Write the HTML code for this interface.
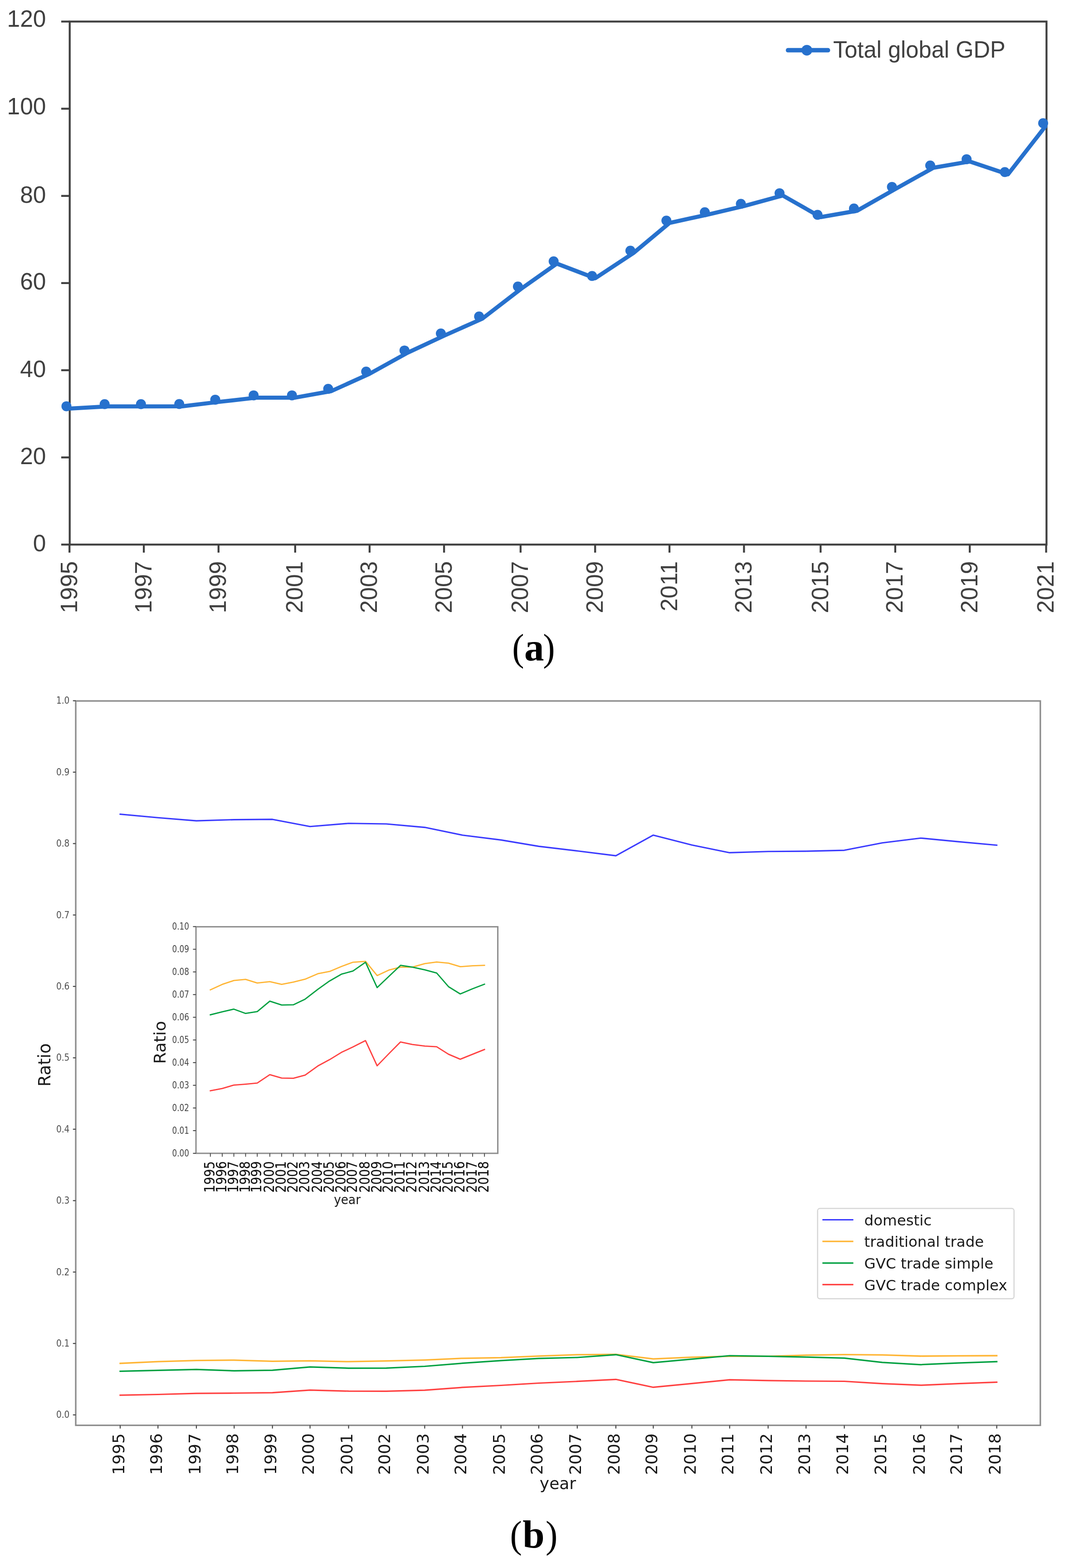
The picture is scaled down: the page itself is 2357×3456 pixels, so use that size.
<!DOCTYPE html>
<html><head><meta charset="utf-8"><title>Figure</title>
<style>
html,body{margin:0;padding:0;background:#fff;}
body{width:2357px;height:3456px;overflow:hidden;position:relative;}
svg{position:absolute;left:0;top:0;display:block;}
.la{font-family:"Liberation Sans",Arial,sans-serif;fill:#404040;}
.lb{font-family:"DejaVu Sans","Liberation Sans",sans-serif;fill:#1a1a1a;}
.tick{fill:#505050;}
.tick2{fill:#474747;}
.ibold{fill:#111;stroke:#111;stroke-width:0.15px;}
.cap{font-family:"Liberation Serif","Times New Roman",serif;fill:#000;}
</style></head>
<body>
<svg width="2357" height="3456" viewBox="0 0 2357 3456">
<rect width="2357" height="3456" fill="#fff"/>
<g id="chartA">
<rect x="153.7" y="47.5" width="2153.7" height="1152.8" fill="none" stroke="#404040" stroke-width="4.3"/>
<line x1="135" y1="1200.3" x2="153.7" y2="1200.3" stroke="#404040" stroke-width="4.3"/>
<text x="101.5" y="1215.2" font-size="51.5" text-anchor="end" class="la">0</text>
<line x1="135" y1="1008.2" x2="153.7" y2="1008.2" stroke="#404040" stroke-width="4.3"/>
<text x="101.5" y="1022.9" font-size="51.5" text-anchor="end" class="la">20</text>
<line x1="135" y1="816.0" x2="153.7" y2="816.0" stroke="#404040" stroke-width="4.3"/>
<text x="101.5" y="830.7" font-size="51.5" text-anchor="end" class="la">40</text>
<line x1="135" y1="623.9" x2="153.7" y2="623.9" stroke="#404040" stroke-width="4.3"/>
<text x="101.5" y="638.3" font-size="51.5" text-anchor="end" class="la">60</text>
<line x1="135" y1="431.8" x2="153.7" y2="431.8" stroke="#404040" stroke-width="4.3"/>
<text x="101.5" y="447.0" font-size="51.5" text-anchor="end" class="la">80</text>
<line x1="135" y1="239.6" x2="153.7" y2="239.6" stroke="#404040" stroke-width="4.3"/>
<text x="101.5" y="251.9" font-size="51.5" text-anchor="end" class="la">100</text>
<line x1="135" y1="47.5" x2="153.7" y2="47.5" stroke="#404040" stroke-width="4.3"/>
<text x="101.5" y="59.1" font-size="51.5" text-anchor="end" class="la">120</text>
<line x1="153.2" y1="1200.3" x2="153.2" y2="1218" stroke="#404040" stroke-width="4.3"/>
<text transform="translate(169.7,1236.8) rotate(-90)" font-size="51.5" text-anchor="end" class="la">1995</text>
<line x1="317.1" y1="1200.3" x2="317.1" y2="1218" stroke="#404040" stroke-width="4.3"/>
<text transform="translate(333.6,1236.8) rotate(-90)" font-size="51.5" text-anchor="end" class="la">1997</text>
<line x1="481.8" y1="1200.3" x2="481.8" y2="1218" stroke="#404040" stroke-width="4.3"/>
<text transform="translate(498.3,1236.8) rotate(-90)" font-size="51.5" text-anchor="end" class="la">1999</text>
<line x1="650.8" y1="1200.3" x2="650.8" y2="1218" stroke="#404040" stroke-width="4.3"/>
<text transform="translate(667.3,1236.8) rotate(-90)" font-size="51.5" text-anchor="end" class="la">2001</text>
<line x1="814.9" y1="1200.3" x2="814.9" y2="1218" stroke="#404040" stroke-width="4.3"/>
<text transform="translate(831.4,1236.8) rotate(-90)" font-size="51.5" text-anchor="end" class="la">2003</text>
<line x1="979.1" y1="1200.3" x2="979.1" y2="1218" stroke="#404040" stroke-width="4.3"/>
<text transform="translate(995.6,1236.8) rotate(-90)" font-size="51.5" text-anchor="end" class="la">2005</text>
<line x1="1147.8" y1="1200.3" x2="1147.8" y2="1218" stroke="#404040" stroke-width="4.3"/>
<text transform="translate(1164.3,1236.8) rotate(-90)" font-size="51.5" text-anchor="end" class="la">2007</text>
<line x1="1312.2" y1="1200.3" x2="1312.2" y2="1218" stroke="#404040" stroke-width="4.3"/>
<text transform="translate(1328.7,1236.8) rotate(-90)" font-size="51.5" text-anchor="end" class="la">2009</text>
<line x1="1476.1" y1="1200.3" x2="1476.1" y2="1218" stroke="#404040" stroke-width="4.3"/>
<text transform="translate(1492.6,1236.8) rotate(-90)" font-size="51.5" text-anchor="end" class="la">2011</text>
<line x1="1640.4" y1="1200.3" x2="1640.4" y2="1218" stroke="#404040" stroke-width="4.3"/>
<text transform="translate(1656.9,1236.8) rotate(-90)" font-size="51.5" text-anchor="end" class="la">2013</text>
<line x1="1809.3" y1="1200.3" x2="1809.3" y2="1218" stroke="#404040" stroke-width="4.3"/>
<text transform="translate(1825.8,1236.8) rotate(-90)" font-size="51.5" text-anchor="end" class="la">2015</text>
<line x1="1973.9" y1="1200.3" x2="1973.9" y2="1218" stroke="#404040" stroke-width="4.3"/>
<text transform="translate(1990.4,1236.8) rotate(-90)" font-size="51.5" text-anchor="end" class="la">2017</text>
<line x1="2138.2" y1="1200.3" x2="2138.2" y2="1218" stroke="#404040" stroke-width="4.3"/>
<text transform="translate(2154.7,1236.8) rotate(-90)" font-size="51.5" text-anchor="end" class="la">2019</text>
<line x1="2306.6" y1="1200.3" x2="2306.6" y2="1218" stroke="#404040" stroke-width="4.3"/>
<text transform="translate(2323.1,1236.8) rotate(-90)" font-size="51.5" text-anchor="end" class="la">2021</text>
<polyline points="153.7,900.4 237.7,895.7 317.8,895.7 402.2,895.5 481.6,885.9 566.2,876.4 650.7,876.4 730.6,862.0 814.3,824.1 898.8,777.4 979.0,740.0 1063.3,702.5 1148.9,636.6 1227.7,581.0 1312.4,613.2 1396.9,557.5 1476.3,491.3 1561.0,472.8 1640.5,454.2 1725.8,430.9 1809.6,478.5 1889.8,464.5 1973.6,416.9 2058.0,369.8 2138.2,355.9 2222.5,384.3 2306.5,276.5" fill="none" stroke="#2771cd" stroke-width="9" stroke-linejoin="round"/>
<circle cx="146.5" cy="895.4" r="11" fill="#2771cd"/>
<circle cx="230.7" cy="890.7" r="11" fill="#2771cd"/>
<circle cx="310.8" cy="890.7" r="11" fill="#2771cd"/>
<circle cx="395.2" cy="890.5" r="11" fill="#2771cd"/>
<circle cx="474.6" cy="880.9" r="11" fill="#2771cd"/>
<circle cx="559.2" cy="871.4" r="11" fill="#2771cd"/>
<circle cx="643.7" cy="871.4" r="11" fill="#2771cd"/>
<circle cx="723.6" cy="857" r="11" fill="#2771cd"/>
<circle cx="807.3" cy="819.1" r="11" fill="#2771cd"/>
<circle cx="891.8" cy="772.4" r="11" fill="#2771cd"/>
<circle cx="972" cy="735" r="11" fill="#2771cd"/>
<circle cx="1056.3" cy="697.5" r="11" fill="#2771cd"/>
<circle cx="1141.9" cy="631.6" r="11" fill="#2771cd"/>
<circle cx="1220.7" cy="576" r="11" fill="#2771cd"/>
<circle cx="1305.4" cy="608.2" r="11" fill="#2771cd"/>
<circle cx="1389.9" cy="552.5" r="11" fill="#2771cd"/>
<circle cx="1469.3" cy="486.3" r="11" fill="#2771cd"/>
<circle cx="1554" cy="467.8" r="11" fill="#2771cd"/>
<circle cx="1633.5" cy="449.2" r="11" fill="#2771cd"/>
<circle cx="1718.8" cy="425.9" r="11" fill="#2771cd"/>
<circle cx="1802.6" cy="473.5" r="11" fill="#2771cd"/>
<circle cx="1882.8" cy="459.5" r="11" fill="#2771cd"/>
<circle cx="1966.6" cy="411.9" r="11" fill="#2771cd"/>
<circle cx="2051" cy="364.8" r="11" fill="#2771cd"/>
<circle cx="2131.2" cy="350.9" r="11" fill="#2771cd"/>
<circle cx="2215.5" cy="379.3" r="11" fill="#2771cd"/>
<circle cx="2300" cy="271.5" r="11" fill="#2771cd"/>
<line x1="1737.5" y1="110.7" x2="1825.5" y2="110.7" stroke="#2771cd" stroke-width="9.8" stroke-linecap="round"/>
<circle cx="1779" cy="110.7" r="11.8" fill="#2771cd"/>
<text x="1836.9" y="126.6" font-size="51.5" class="la" textLength="380" lengthAdjust="spacingAndGlyphs">Total global GDP</text>
<text transform="translate(1129.3,1456) scale(0.93,1)" class="cap" font-size="85">(</text>
<text x="1156.0" y="1456" class="cap" font-size="87" font-weight="bold">a</text>
<text transform="translate(1197.3,1456) scale(0.93,1)" class="cap" font-size="85">)</text>
</g>
<g id="chartB">
<rect x="167.0" y="1545.0" width="2126.8" height="1596.5" fill="none" stroke="#8c8c8c" stroke-width="3.3"/>
<line x1="160.8" y1="3118.5" x2="167.0" y2="3118.5" stroke="#444" stroke-width="2.2"/>
<text x="153.4" y="3125.3" font-size="20.5" text-anchor="end" class="lb tick" textLength="29.5" lengthAdjust="spacingAndGlyphs">0.0</text>
<line x1="160.8" y1="2961.1" x2="167.0" y2="2961.1" stroke="#444" stroke-width="2.2"/>
<text x="153.4" y="2967.9" font-size="20.5" text-anchor="end" class="lb tick" textLength="29.5" lengthAdjust="spacingAndGlyphs">0.1</text>
<line x1="160.8" y1="2803.7" x2="167.0" y2="2803.7" stroke="#444" stroke-width="2.2"/>
<text x="153.4" y="2810.5" font-size="20.5" text-anchor="end" class="lb tick" textLength="29.5" lengthAdjust="spacingAndGlyphs">0.2</text>
<line x1="160.8" y1="2646.3" x2="167.0" y2="2646.3" stroke="#444" stroke-width="2.2"/>
<text x="153.4" y="2653.1" font-size="20.5" text-anchor="end" class="lb tick" textLength="29.5" lengthAdjust="spacingAndGlyphs">0.3</text>
<line x1="160.8" y1="2488.9" x2="167.0" y2="2488.9" stroke="#444" stroke-width="2.2"/>
<text x="153.4" y="2495.7" font-size="20.5" text-anchor="end" class="lb tick" textLength="29.5" lengthAdjust="spacingAndGlyphs">0.4</text>
<line x1="160.8" y1="2331.5" x2="167.0" y2="2331.5" stroke="#444" stroke-width="2.2"/>
<text x="153.4" y="2338.3" font-size="20.5" text-anchor="end" class="lb tick" textLength="29.5" lengthAdjust="spacingAndGlyphs">0.5</text>
<line x1="160.8" y1="2174.1" x2="167.0" y2="2174.1" stroke="#444" stroke-width="2.2"/>
<text x="153.4" y="2180.9" font-size="20.5" text-anchor="end" class="lb tick" textLength="29.5" lengthAdjust="spacingAndGlyphs">0.6</text>
<line x1="160.8" y1="2016.7" x2="167.0" y2="2016.7" stroke="#444" stroke-width="2.2"/>
<text x="153.4" y="2023.5" font-size="20.5" text-anchor="end" class="lb tick" textLength="29.5" lengthAdjust="spacingAndGlyphs">0.7</text>
<line x1="160.8" y1="1859.3" x2="167.0" y2="1859.3" stroke="#444" stroke-width="2.2"/>
<text x="153.4" y="1866.1" font-size="20.5" text-anchor="end" class="lb tick" textLength="29.5" lengthAdjust="spacingAndGlyphs">0.8</text>
<line x1="160.8" y1="1701.9" x2="167.0" y2="1701.9" stroke="#444" stroke-width="2.2"/>
<text x="153.4" y="1708.7" font-size="20.5" text-anchor="end" class="lb tick" textLength="29.5" lengthAdjust="spacingAndGlyphs">0.9</text>
<line x1="160.8" y1="1544.5" x2="167.0" y2="1544.5" stroke="#444" stroke-width="2.2"/>
<text x="153.4" y="1551.3" font-size="20.5" text-anchor="end" class="lb tick" textLength="29.5" lengthAdjust="spacingAndGlyphs">1.0</text>
<line x1="265.0" y1="3141.5" x2="265.0" y2="3148.6" stroke="#444" stroke-width="2.2"/>
<text transform="translate(273.5,3159.2) rotate(-90)" font-size="36" text-anchor="end" class="lb">1995</text>
<line x1="348.3" y1="3141.5" x2="348.3" y2="3148.6" stroke="#444" stroke-width="2.2"/>
<text transform="translate(356.8,3159.2) rotate(-90)" font-size="36" text-anchor="end" class="lb">1996</text>
<line x1="433.0" y1="3141.5" x2="433.0" y2="3148.6" stroke="#444" stroke-width="2.2"/>
<text transform="translate(441.5,3159.2) rotate(-90)" font-size="36" text-anchor="end" class="lb">1997</text>
<line x1="516.3" y1="3141.5" x2="516.3" y2="3148.6" stroke="#444" stroke-width="2.2"/>
<text transform="translate(524.8,3159.2) rotate(-90)" font-size="36" text-anchor="end" class="lb">1998</text>
<line x1="600.7" y1="3141.5" x2="600.7" y2="3148.6" stroke="#444" stroke-width="2.2"/>
<text transform="translate(609.2,3159.2) rotate(-90)" font-size="36" text-anchor="end" class="lb">1999</text>
<line x1="683.6" y1="3141.5" x2="683.6" y2="3148.6" stroke="#444" stroke-width="2.2"/>
<text transform="translate(692.1,3159.2) rotate(-90)" font-size="36" text-anchor="end" class="lb">2000</text>
<line x1="768.6" y1="3141.5" x2="768.6" y2="3148.6" stroke="#444" stroke-width="2.2"/>
<text transform="translate(777.1,3159.2) rotate(-90)" font-size="36" text-anchor="end" class="lb">2001</text>
<line x1="851.7" y1="3141.5" x2="851.7" y2="3148.6" stroke="#444" stroke-width="2.2"/>
<text transform="translate(860.2,3159.2) rotate(-90)" font-size="36" text-anchor="end" class="lb">2002</text>
<line x1="936.4" y1="3141.5" x2="936.4" y2="3148.6" stroke="#444" stroke-width="2.2"/>
<text transform="translate(944.9,3159.2) rotate(-90)" font-size="36" text-anchor="end" class="lb">2003</text>
<line x1="1019.7" y1="3141.5" x2="1019.7" y2="3148.6" stroke="#444" stroke-width="2.2"/>
<text transform="translate(1028.2,3159.2) rotate(-90)" font-size="36" text-anchor="end" class="lb">2004</text>
<line x1="1104.6" y1="3141.5" x2="1104.6" y2="3148.6" stroke="#444" stroke-width="2.2"/>
<text transform="translate(1113.1,3159.2) rotate(-90)" font-size="36" text-anchor="end" class="lb">2005</text>
<line x1="1187.9" y1="3141.5" x2="1187.9" y2="3148.6" stroke="#444" stroke-width="2.2"/>
<text transform="translate(1196.4,3159.2) rotate(-90)" font-size="36" text-anchor="end" class="lb">2006</text>
<line x1="1272.8" y1="3141.5" x2="1272.8" y2="3148.6" stroke="#444" stroke-width="2.2"/>
<text transform="translate(1281.3,3159.2) rotate(-90)" font-size="36" text-anchor="end" class="lb">2007</text>
<line x1="1357.9" y1="3141.5" x2="1357.9" y2="3148.6" stroke="#444" stroke-width="2.2"/>
<text transform="translate(1366.4,3159.2) rotate(-90)" font-size="36" text-anchor="end" class="lb">2008</text>
<line x1="1440.4" y1="3141.5" x2="1440.4" y2="3148.6" stroke="#444" stroke-width="2.2"/>
<text transform="translate(1448.9,3159.2) rotate(-90)" font-size="36" text-anchor="end" class="lb">2009</text>
<line x1="1525.5" y1="3141.5" x2="1525.5" y2="3148.6" stroke="#444" stroke-width="2.2"/>
<text transform="translate(1534.0,3159.2) rotate(-90)" font-size="36" text-anchor="end" class="lb">2010</text>
<line x1="1608.8" y1="3141.5" x2="1608.8" y2="3148.6" stroke="#444" stroke-width="2.2"/>
<text transform="translate(1617.3,3159.2) rotate(-90)" font-size="36" text-anchor="end" class="lb">2011</text>
<line x1="1693.6" y1="3141.5" x2="1693.6" y2="3148.6" stroke="#444" stroke-width="2.2"/>
<text transform="translate(1702.1,3159.2) rotate(-90)" font-size="36" text-anchor="end" class="lb">2012</text>
<line x1="1777.2" y1="3141.5" x2="1777.2" y2="3148.6" stroke="#444" stroke-width="2.2"/>
<text transform="translate(1785.7,3159.2) rotate(-90)" font-size="36" text-anchor="end" class="lb">2013</text>
<line x1="1861.6" y1="3141.5" x2="1861.6" y2="3148.6" stroke="#444" stroke-width="2.2"/>
<text transform="translate(1870.1,3159.2) rotate(-90)" font-size="36" text-anchor="end" class="lb">2014</text>
<line x1="1945.3" y1="3141.5" x2="1945.3" y2="3148.6" stroke="#444" stroke-width="2.2"/>
<text transform="translate(1953.8,3159.2) rotate(-90)" font-size="36" text-anchor="end" class="lb">2015</text>
<line x1="2030.0" y1="3141.5" x2="2030.0" y2="3148.6" stroke="#444" stroke-width="2.2"/>
<text transform="translate(2038.5,3159.2) rotate(-90)" font-size="36" text-anchor="end" class="lb">2016</text>
<line x1="2112.6" y1="3141.5" x2="2112.6" y2="3148.6" stroke="#444" stroke-width="2.2"/>
<text transform="translate(2121.1,3159.2) rotate(-90)" font-size="36" text-anchor="end" class="lb">2017</text>
<line x1="2197.7" y1="3141.5" x2="2197.7" y2="3148.6" stroke="#444" stroke-width="2.2"/>
<text transform="translate(2206.2,3159.2) rotate(-90)" font-size="36" text-anchor="end" class="lb">2018</text>
<text x="1230" y="3282" font-size="36" text-anchor="middle" class="lb">year</text>
<text transform="translate(110.6,2347.3) rotate(-90)" font-size="36.5" text-anchor="middle" class="lb" textLength="95.5" lengthAdjust="spacingAndGlyphs">Ratio</text>
<polyline points="265.0,1794.6 348.3,1802.2 433.0,1809.1 516.3,1806.6 600.7,1805.9 683.6,1821.7 768.6,1814.8 851.7,1816.0 936.4,1823.6 1019.7,1840.7 1104.6,1851.4 1187.9,1865.4 1272.8,1875.5 1357.9,1886.1 1440.4,1840.7 1525.5,1862.4 1608.8,1879.4 1693.6,1876.8 1777.2,1876.1 1861.6,1874.1 1945.3,1857.7 2030.0,1847.2 2112.6,1855.1 2197.7,1862.9" fill="none" stroke="#3a3aff" stroke-width="3.1" stroke-linejoin="round" stroke-linecap="square"/>
<polyline points="265.0,3005.0 348.3,3001.2 433.0,2998.6 516.3,2997.8 600.7,3000.3 683.6,2999.3 768.6,3001.2 851.7,2999.7 936.4,2997.6 1019.7,2993.8 1104.6,2992.3 1187.9,2988.8 1272.8,2985.8 1357.9,2985.2 1440.4,2995.1 1525.5,2991.3 1608.8,2989.3 1693.6,2989.3 1777.2,2986.8 1861.6,2985.7 1945.3,2986.4 2030.0,2989.0 2112.6,2988.3 2197.7,2988.0" fill="none" stroke="#ffb534" stroke-width="3.3" stroke-linejoin="round" stroke-linecap="square"/>
<polyline points="265.0,3022.3 348.3,3020.3 433.0,3018.4 516.3,3021.4 600.7,3020.1 683.6,3012.9 768.6,3015.6 851.7,3015.4 936.4,3011.5 1019.7,3004.7 1104.6,2998.9 1187.9,2994.2 1272.8,2992.0 1357.9,2985.8 1440.4,3003.4 1525.5,2995.7 1608.8,2988.0 1693.6,2989.3 1777.2,2991.2 1861.6,2993.4 1945.3,3002.8 2030.0,3007.8 2112.6,3004.2 2197.7,3001.1" fill="none" stroke="#00a040" stroke-width="3.2" stroke-linejoin="round" stroke-linecap="square"/>
<polyline points="265.0,3075.1 348.3,3073.5 433.0,3071.1 516.3,3070.5 600.7,3069.7 683.6,3063.9 768.6,3066.2 851.7,3066.4 936.4,3064.2 1019.7,3057.9 1104.6,3053.5 1187.9,3048.5 1272.8,3044.7 1357.9,3040.3 1440.4,3057.7 1525.5,3049.4 1608.8,3041.2 1693.6,3042.9 1777.2,3044.0 1861.6,3044.5 1945.3,3049.7 2030.0,3053.2 2112.6,3049.7 2197.7,3046.4" fill="none" stroke="#ff4040" stroke-width="3.2" stroke-linejoin="round" stroke-linecap="square"/>
<rect x="1802.7" y="2663.6" width="433.1" height="199" rx="5" ry="5" fill="#fff" stroke="#d6d6d6" stroke-width="2.5"/>
<line x1="1813.3" y1="2688.5" x2="1881.5" y2="2688.5" stroke="#3a3aff" stroke-width="3.2"/>
<text x="1905.5" y="2700.6" font-size="32.5" class="lb">domestic</text>
<line x1="1813.3" y1="2736.1" x2="1881.5" y2="2736.1" stroke="#ffb534" stroke-width="3.2"/>
<text x="1905.5" y="2748.2" font-size="32.5" class="lb">traditional trade</text>
<line x1="1813.3" y1="2783.8" x2="1881.5" y2="2783.8" stroke="#00a040" stroke-width="3.2"/>
<text x="1905.5" y="2795.9" font-size="32.5" class="lb">GVC trade simple</text>
<line x1="1813.3" y1="2831.4" x2="1881.5" y2="2831.4" stroke="#ff4040" stroke-width="3.2"/>
<text x="1905.5" y="2843.5" font-size="32.5" class="lb">GVC trade complex</text>
<rect x="432.1" y="2042.7" width="665.5" height="499.3" fill="#fff" stroke="#8c8c8c" stroke-width="3"/>
<line x1="425.5" y1="2542.0" x2="432.1" y2="2542.0" stroke="#444" stroke-width="2"/>
<text x="417" y="2548.8" font-size="20.5" text-anchor="end" class="lb tick2" textLength="37.5" lengthAdjust="spacingAndGlyphs">0.00</text>
<line x1="425.5" y1="2492.0" x2="432.1" y2="2492.0" stroke="#444" stroke-width="2"/>
<text x="417" y="2498.8" font-size="20.5" text-anchor="end" class="lb tick2" textLength="37.5" lengthAdjust="spacingAndGlyphs">0.01</text>
<line x1="425.5" y1="2442.1" x2="432.1" y2="2442.1" stroke="#444" stroke-width="2"/>
<text x="417" y="2448.8" font-size="20.5" text-anchor="end" class="lb tick2" textLength="37.5" lengthAdjust="spacingAndGlyphs">0.02</text>
<line x1="425.5" y1="2392.1" x2="432.1" y2="2392.1" stroke="#444" stroke-width="2"/>
<text x="417" y="2398.9" font-size="20.5" text-anchor="end" class="lb tick2" textLength="37.5" lengthAdjust="spacingAndGlyphs">0.03</text>
<line x1="425.5" y1="2342.1" x2="432.1" y2="2342.1" stroke="#444" stroke-width="2"/>
<text x="417" y="2348.9" font-size="20.5" text-anchor="end" class="lb tick2" textLength="37.5" lengthAdjust="spacingAndGlyphs">0.04</text>
<line x1="425.5" y1="2292.2" x2="432.1" y2="2292.2" stroke="#444" stroke-width="2"/>
<text x="417" y="2298.9" font-size="20.5" text-anchor="end" class="lb tick2" textLength="37.5" lengthAdjust="spacingAndGlyphs">0.05</text>
<line x1="425.5" y1="2242.2" x2="432.1" y2="2242.2" stroke="#444" stroke-width="2"/>
<text x="417" y="2248.9" font-size="20.5" text-anchor="end" class="lb tick2" textLength="37.5" lengthAdjust="spacingAndGlyphs">0.06</text>
<line x1="425.5" y1="2192.2" x2="432.1" y2="2192.2" stroke="#444" stroke-width="2"/>
<text x="417" y="2199.0" font-size="20.5" text-anchor="end" class="lb tick2" textLength="37.5" lengthAdjust="spacingAndGlyphs">0.07</text>
<line x1="425.5" y1="2142.2" x2="432.1" y2="2142.2" stroke="#444" stroke-width="2"/>
<text x="417" y="2149.0" font-size="20.5" text-anchor="end" class="lb tick2" textLength="37.5" lengthAdjust="spacingAndGlyphs">0.08</text>
<line x1="425.5" y1="2092.3" x2="432.1" y2="2092.3" stroke="#444" stroke-width="2"/>
<text x="417" y="2099.0" font-size="20.5" text-anchor="end" class="lb tick2" textLength="37.5" lengthAdjust="spacingAndGlyphs">0.09</text>
<line x1="425.5" y1="2042.3" x2="432.1" y2="2042.3" stroke="#444" stroke-width="2"/>
<text x="417" y="2049.1" font-size="20.5" text-anchor="end" class="lb tick2" textLength="37.5" lengthAdjust="spacingAndGlyphs">0.10</text>
<line x1="463.8" y1="2542.0" x2="463.8" y2="2549.5" stroke="#444" stroke-width="1.8"/>
<text transform="translate(472.8,2559.4) rotate(-90)" font-size="31.8" text-anchor="end" class="lb ibold" textLength="69.3" lengthAdjust="spacingAndGlyphs">1995</text>
<line x1="490.0" y1="2542.0" x2="490.0" y2="2549.5" stroke="#444" stroke-width="1.8"/>
<text transform="translate(499.0,2559.4) rotate(-90)" font-size="31.8" text-anchor="end" class="lb ibold" textLength="69.3" lengthAdjust="spacingAndGlyphs">1996</text>
<line x1="515.6" y1="2542.0" x2="515.6" y2="2549.5" stroke="#444" stroke-width="1.8"/>
<text transform="translate(524.6,2559.4) rotate(-90)" font-size="31.8" text-anchor="end" class="lb ibold" textLength="69.3" lengthAdjust="spacingAndGlyphs">1997</text>
<line x1="541.5" y1="2542.0" x2="541.5" y2="2549.5" stroke="#444" stroke-width="1.8"/>
<text transform="translate(550.5,2559.4) rotate(-90)" font-size="31.8" text-anchor="end" class="lb ibold" textLength="69.3" lengthAdjust="spacingAndGlyphs">1998</text>
<line x1="567.2" y1="2542.0" x2="567.2" y2="2549.5" stroke="#444" stroke-width="1.8"/>
<text transform="translate(576.2,2559.4) rotate(-90)" font-size="31.8" text-anchor="end" class="lb ibold" textLength="69.3" lengthAdjust="spacingAndGlyphs">1999</text>
<line x1="594.9" y1="2542.0" x2="594.9" y2="2549.5" stroke="#444" stroke-width="1.8"/>
<text transform="translate(603.9,2559.4) rotate(-90)" font-size="31.8" text-anchor="end" class="lb ibold" textLength="69.3" lengthAdjust="spacingAndGlyphs">2000</text>
<line x1="621.0" y1="2542.0" x2="621.0" y2="2549.5" stroke="#444" stroke-width="1.8"/>
<text transform="translate(630.0,2559.4) rotate(-90)" font-size="31.8" text-anchor="end" class="lb ibold" textLength="69.3" lengthAdjust="spacingAndGlyphs">2001</text>
<line x1="646.7" y1="2542.0" x2="646.7" y2="2549.5" stroke="#444" stroke-width="1.8"/>
<text transform="translate(655.7,2559.4) rotate(-90)" font-size="31.8" text-anchor="end" class="lb ibold" textLength="69.3" lengthAdjust="spacingAndGlyphs">2002</text>
<line x1="672.8" y1="2542.0" x2="672.8" y2="2549.5" stroke="#444" stroke-width="1.8"/>
<text transform="translate(681.8,2559.4) rotate(-90)" font-size="31.8" text-anchor="end" class="lb ibold" textLength="69.3" lengthAdjust="spacingAndGlyphs">2003</text>
<line x1="700.7" y1="2542.0" x2="700.7" y2="2549.5" stroke="#444" stroke-width="1.8"/>
<text transform="translate(709.7,2559.4) rotate(-90)" font-size="31.8" text-anchor="end" class="lb ibold" textLength="69.3" lengthAdjust="spacingAndGlyphs">2004</text>
<line x1="726.6" y1="2542.0" x2="726.6" y2="2549.5" stroke="#444" stroke-width="1.8"/>
<text transform="translate(735.6,2559.4) rotate(-90)" font-size="31.8" text-anchor="end" class="lb ibold" textLength="69.3" lengthAdjust="spacingAndGlyphs">2005</text>
<line x1="752.7" y1="2542.0" x2="752.7" y2="2549.5" stroke="#444" stroke-width="1.8"/>
<text transform="translate(761.7,2559.4) rotate(-90)" font-size="31.8" text-anchor="end" class="lb ibold" textLength="69.3" lengthAdjust="spacingAndGlyphs">2006</text>
<line x1="778.3" y1="2542.0" x2="778.3" y2="2549.5" stroke="#444" stroke-width="1.8"/>
<text transform="translate(787.3,2559.4) rotate(-90)" font-size="31.8" text-anchor="end" class="lb ibold" textLength="69.3" lengthAdjust="spacingAndGlyphs">2007</text>
<line x1="805.9" y1="2542.0" x2="805.9" y2="2549.5" stroke="#444" stroke-width="1.8"/>
<text transform="translate(814.9,2559.4) rotate(-90)" font-size="31.8" text-anchor="end" class="lb ibold" textLength="69.3" lengthAdjust="spacingAndGlyphs">2008</text>
<line x1="831.5" y1="2542.0" x2="831.5" y2="2549.5" stroke="#444" stroke-width="1.8"/>
<text transform="translate(840.5,2559.4) rotate(-90)" font-size="31.8" text-anchor="end" class="lb ibold" textLength="69.3" lengthAdjust="spacingAndGlyphs">2009</text>
<line x1="857.2" y1="2542.0" x2="857.2" y2="2549.5" stroke="#444" stroke-width="1.8"/>
<text transform="translate(866.2,2559.4) rotate(-90)" font-size="31.8" text-anchor="end" class="lb ibold" textLength="69.3" lengthAdjust="spacingAndGlyphs">2010</text>
<line x1="883.1" y1="2542.0" x2="883.1" y2="2549.5" stroke="#444" stroke-width="1.8"/>
<text transform="translate(892.1,2559.4) rotate(-90)" font-size="31.8" text-anchor="end" class="lb ibold" textLength="69.3" lengthAdjust="spacingAndGlyphs">2011</text>
<line x1="909.2" y1="2542.0" x2="909.2" y2="2549.5" stroke="#444" stroke-width="1.8"/>
<text transform="translate(918.2,2559.4) rotate(-90)" font-size="31.8" text-anchor="end" class="lb ibold" textLength="69.3" lengthAdjust="spacingAndGlyphs">2012</text>
<line x1="936.7" y1="2542.0" x2="936.7" y2="2549.5" stroke="#444" stroke-width="1.8"/>
<text transform="translate(945.7,2559.4) rotate(-90)" font-size="31.8" text-anchor="end" class="lb ibold" textLength="69.3" lengthAdjust="spacingAndGlyphs">2013</text>
<line x1="962.8" y1="2542.0" x2="962.8" y2="2549.5" stroke="#444" stroke-width="1.8"/>
<text transform="translate(971.8,2559.4) rotate(-90)" font-size="31.8" text-anchor="end" class="lb ibold" textLength="69.3" lengthAdjust="spacingAndGlyphs">2014</text>
<line x1="988.9" y1="2542.0" x2="988.9" y2="2549.5" stroke="#444" stroke-width="1.8"/>
<text transform="translate(997.9,2559.4) rotate(-90)" font-size="31.8" text-anchor="end" class="lb ibold" textLength="69.3" lengthAdjust="spacingAndGlyphs">2015</text>
<line x1="1014.8" y1="2542.0" x2="1014.8" y2="2549.5" stroke="#444" stroke-width="1.8"/>
<text transform="translate(1023.8,2559.4) rotate(-90)" font-size="31.8" text-anchor="end" class="lb ibold" textLength="69.3" lengthAdjust="spacingAndGlyphs">2016</text>
<line x1="1042.1" y1="2542.0" x2="1042.1" y2="2549.5" stroke="#444" stroke-width="1.8"/>
<text transform="translate(1051.1,2559.4) rotate(-90)" font-size="31.8" text-anchor="end" class="lb ibold" textLength="69.3" lengthAdjust="spacingAndGlyphs">2017</text>
<line x1="1068.2" y1="2542.0" x2="1068.2" y2="2549.5" stroke="#444" stroke-width="1.8"/>
<text transform="translate(1077.2,2559.4) rotate(-90)" font-size="31.8" text-anchor="end" class="lb ibold" textLength="69.3" lengthAdjust="spacingAndGlyphs">2018</text>
<text x="765.7" y="2653.8" font-size="28" text-anchor="middle" class="lb" textLength="59" lengthAdjust="spacingAndGlyphs">year</text>
<text transform="translate(365,2297.5) rotate(-90)" font-size="35" text-anchor="middle" class="lb" textLength="95" lengthAdjust="spacingAndGlyphs">Ratio</text>
<polyline points="463.8,2181.7 490.0,2169.7 515.6,2161.2 541.5,2158.7 567.2,2166.7 594.9,2163.7 621.0,2169.7 646.7,2164.7 672.8,2158.2 700.7,2146.2 726.6,2141.2 752.7,2130.2 778.3,2120.8 805.9,2118.8 831.5,2150.2 857.2,2138.2 883.1,2131.7 909.2,2131.7 936.7,2123.8 962.8,2120.3 988.9,2122.8 1014.8,2130.7 1042.1,2128.7 1068.2,2127.7" fill="none" stroke="#ffb534" stroke-width="2.8" stroke-linejoin="round" stroke-linecap="square"/>
<polyline points="463.8,2236.7 490.0,2230.2 515.6,2224.2 541.5,2233.7 567.2,2229.7 594.9,2206.7 621.0,2215.2 646.7,2214.7 672.8,2202.2 700.7,2180.7 726.6,2162.2 752.7,2147.2 778.3,2140.2 805.9,2120.8 831.5,2176.7 857.2,2152.2 883.1,2127.7 909.2,2131.7 936.7,2137.7 962.8,2144.7 988.9,2174.7 1014.8,2190.7 1042.1,2179.2 1068.2,2169.2" fill="none" stroke="#00a040" stroke-width="2.8" stroke-linejoin="round" stroke-linecap="square"/>
<polyline points="463.8,2404.1 490.0,2399.1 515.6,2391.6 541.5,2389.6 567.2,2387.1 594.9,2368.6 621.0,2376.1 646.7,2376.6 672.8,2369.6 700.7,2349.6 726.6,2335.6 752.7,2319.6 778.3,2307.6 805.9,2293.6 831.5,2349.1 857.2,2322.6 883.1,2296.6 909.2,2302.1 936.7,2305.6 962.8,2307.1 988.9,2323.6 1014.8,2334.6 1042.1,2323.6 1068.2,2313.1" fill="none" stroke="#ff4040" stroke-width="2.8" stroke-linejoin="round" stroke-linecap="square"/>
<text transform="translate(1124.5,3411.2) scale(0.93,1)" class="cap" font-size="85">(</text>
<text x="1152.2" y="3411.2" class="cap" font-size="87" font-weight="bold">b</text>
<text transform="translate(1202.9,3411.2) scale(0.93,1)" class="cap" font-size="85">)</text>
</g>
</svg>
</body></html>
